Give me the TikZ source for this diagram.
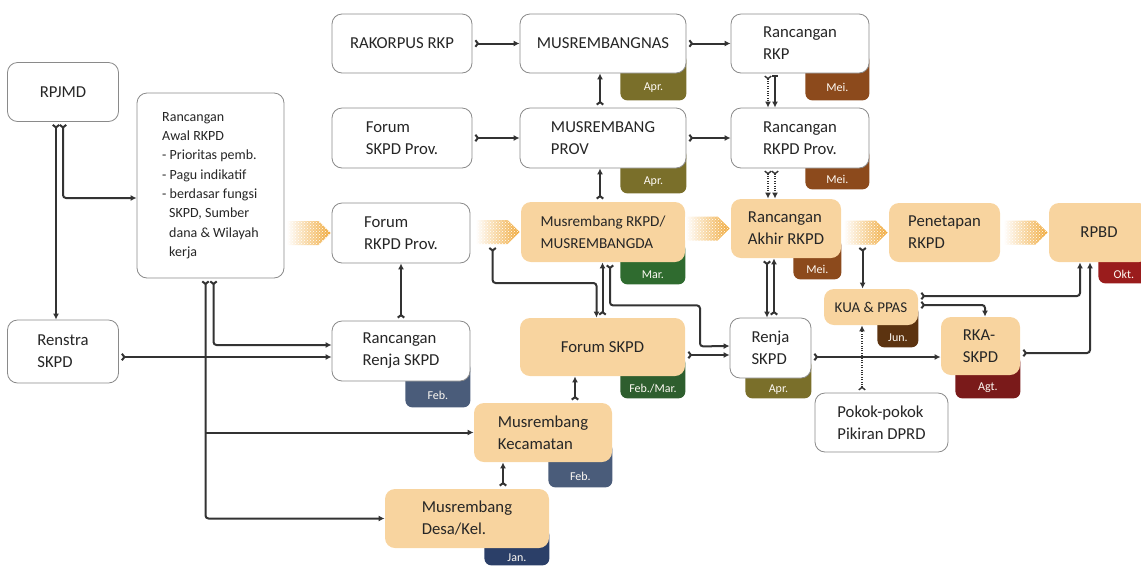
\documentclass[tikz,border=0pt]{standalone}
\usepackage{fontspec}
\setmainfont{Carlito}
\usepackage{tikz}
\usetikzlibrary{arrows.meta,calc,backgrounds,patterns}
\definecolor{peach}{HTML}{F8D49F}
\definecolor{boxgray}{HTML}{8A8A8A}
\definecolor{linegray}{HTML}{333333}
\definecolor{textgray}{HTML}{262626}
\definecolor{chevorange}{HTML}{F0A838}
\definecolor{olive}{HTML}{7A6F2A}
\definecolor{brownmei}{HTML}{8C4A1C}
\definecolor{brownjun}{HTML}{5C3310}
\definecolor{greenmar}{HTML}{2F6B2F}
\definecolor{greenfeb}{HTML}{2E5E2E}
\definecolor{redokt}{HTML}{9A1C1C}
\definecolor{redagt}{HTML}{7A1A1A}
\definecolor{slate}{HTML}{4A5C7A}
\definecolor{navy}{HTML}{2B3F68}
\newcommand{\boxfont}{\fontsize{16.7}{22}\selectfont}
\newcommand{\smallboxfont}{\fontsize{15.2}{22}\selectfont}
\newcommand{\awalfont}{\fontsize{14}{19.3}\selectfont}
\tikzstyle{box}=[draw=boxgray, line width=0.8pt, fill=white, rounded corners=10pt, align=left,
                 inner sep=0, text=textgray, font=\boxfont]
\tikzstyle{pbox}=[box, draw=none, fill=peach]
\tikzstyle{tablabel}=[inner sep=0, text=white!88!peach, font=\fontsize{12}{14}\selectfont]
\tikzstyle{flow}=[draw=linegray, line width=2pt, rounded corners=3pt, shorten <=2pt,
                  arrows={Straight Barb[reversed,length=2.5pt,width=6.5pt]-Latex[length=6pt,width=6pt]}]
\tikzstyle{branch}=[flow, shorten <=0pt, arrows={-Latex[length=6pt,width=6pt]}]
\tikzstyle{dflow}=[flow, line width=1.4pt, dash pattern=on 1pt off 1.4pt]
\tikzstyle{stagefill}=[left color=white, right color=chevorange]
% month tab under the lower right corner of a box: box, colour, text, width, drop
\newcommand{\monthtab}[5]{%
  \begin{scope}[on background layer]
    \fill[#2, rounded corners=7pt] ($(#1.south east)+(-#4,-20)$) rectangle ($(#1.south east)+(0,#5)$);
  \end{scope}
  \node[tablabel] (#1tab) at ($(#1.south east)+(-#4/2,#5/2+1)$) {#3};}
% hatched stage arrow in front of a box
\newcommand{\stagearrow}[1]{%
  \path[stagefill] ($(#1.west)+(-45,-12)$) -- ++(32,0) -- ++(12,12) -- ++(-12,12) -- ++(-32,0) -- cycle;
  \path[pattern=crosshatch dots, pattern color=white] ($(#1.west)+(-45,-12)$) -- ++(32,0) -- ++(12,12) -- ++(-12,12) -- ++(-32,0) -- cycle;}
\begin{document}
\begin{tikzpicture}[x=1pt, y=-1pt]
    \useasboundingbox (0,0) rectangle (1141,566);
    % left column
    \node[box, minimum width=111pt, minimum height=59pt] (rpjmd) at (63,92) {RPJMD};
    \node[box, minimum width=147pt, minimum height=185pt, font=\awalfont] (awal) at (210.5,185.5)
        {Rancangan\\Awal RKPD\\- Prioritas pemb.\\- Pagu indikatif\\- berdasar fungsi\\\hspace*{7pt}SKPD, Sumber\\\hspace*{7pt}dana \& Wilayah\\\hspace*{7pt}kerja};
    \node[box, minimum width=111pt, minimum height=63pt] (renstra) at (63,351.5) {Renstra\\SKPD};
    % national and province rows
    \node[box, minimum width=140pt, minimum height=59pt] (rakorpus) at (402,43.5) {RAKORPUS RKP};
    \node[box, minimum width=166pt, minimum height=59pt] (musnas) at (603,43.5) {MUSREMBANGNAS};
    \node[box, minimum width=138pt, minimum height=59pt] (rkp) at (800,43.5) {Rancangan\\RKP};
    \node[box, minimum width=140pt, minimum height=60pt] (forumprov) at (402,138) {Forum\\SKPD Prov.};
    \node[box, minimum width=166pt, minimum height=60pt] (musprov) at (603,138) {MUSREMBANG\\PROV};
    \node[box, minimum width=138pt, minimum height=60pt] (rkpdprov) at (800,138) {Rancangan\\RKPD Prov.};
    % main stage row
    \node[box, minimum width=138pt, minimum height=60pt] (forumrkpd) at (401,233) {Forum\\RKPD Prov.};
    \node[pbox, minimum width=164pt, minimum height=60pt, font=\smallboxfont] (musrkpd) at (603,232) {Musrembang RKPD/\\MUSREMBANGDA};
    \node[pbox, minimum width=110pt, minimum height=59pt] (akhir) at (786,228.5) {Rancangan\\Akhir RKPD};
    \node[pbox, minimum width=111pt, minimum height=59pt] (penetapan) at (944.5,232.5) {Penetapan\\RKPD};
    \node[pbox, minimum width=100pt, minimum height=59pt] (rpbd) at (1099,232.5) {RPBD};
    % lower rows
    \node[box, minimum width=138pt, minimum height=60pt] (rcgrenja) at (401,351) {Rancangan\\Renja SKPD};
    \node[pbox, minimum width=165pt, minimum height=58pt] (forumskpd) at (602.5,347) {Forum SKPD};
    \node[box, minimum width=81pt, minimum height=60pt] (renja) at (770.5,348) {Renja\\SKPD};
    \node[pbox, minimum width=94pt, minimum height=36pt, font=\fontsize{15}{18}\selectfont] (kua) at (871,307) {KUA \& PPAS};
    \node[pbox, minimum width=79pt, minimum height=58pt] (rka) at (980.5,346) {RKA-\\SKPD};
    \node[box, minimum width=133pt, minimum height=59pt] (pokok) at (881.5,422.5) {Pokok-pokok\\Pikiran DPRD};
    \node[pbox, minimum width=138pt, minimum height=59pt] (kecamatan) at (543,432.5) {Musrembang\\Kecamatan};
    \node[pbox, minimum width=164pt, minimum height=59pt] (desa) at (467,518.5) {Musrembang\\Desa/Kel.};
    % month tabs
    \monthtab{musnas}{olive}{Apr.}{66}{27}
    \monthtab{rkp}{brownmei}{Mei.}{64}{27}
    \monthtab{musprov}{olive}{Apr.}{66}{25}
    \monthtab{rkpdprov}{brownmei}{Mei.}{64}{21}
    \monthtab{musrkpd}{greenmar}{Mar.}{65}{22}
    \monthtab{akhir}{brownmei}{Mei.}{48}{21}
    \monthtab{rpbd}{redokt}{Okt.}{51}{21}
    \monthtab{rcgrenja}{slate}{Feb.}{65}{26}
    \monthtab{forumskpd}{greenfeb}{Feb./Mar.}{65}{22}
    \monthtab{renja}{olive}{Apr.}{66}{20}
    \monthtab{kua}{brownjun}{Jun.}{41}{22}
    \monthtab{rka}{redagt}{Agt.}{65}{23}
    \monthtab{kecamatan}{slate}{Feb.}{64}{25}
    \monthtab{desa}{navy}{Jan.}{65}{17}
    % stage arrows
    \stagearrow{forumrkpd}
    \stagearrow{musrkpd}
    \stagearrow{akhir}
    \stagearrow{penetapan}
    \stagearrow{rpbd}
    \coordinate (fork1) at ($(musrkpd.west)+(-28,13)$);
    \coordinate (fork2) at ($(penetapan.west)+(-26,12.5)$);
    % connectors
    \draw[flow] (rakorpus) -- (musnas);
    \draw[flow] (musnas) -- (rkp);
    \draw[flow] (forumprov) -- (musprov);
    \draw[flow] (musprov) -- (rkpdprov);
    \draw[flow] ([xshift=-3pt]musprov.north) -- ([xshift=-3pt]musprov.north |- musnas.south);
    \draw[flow] ([xshift=-3pt]musrkpd.north) -- ([xshift=-3pt]musrkpd.north |- musprov.south);
    \draw[dflow] ([xshift=-32pt]rkp.south) -- ([xshift=-32pt]rkp.south |- rkpdprov.north);
    \draw[flow, {Bar[width=6pt]}-{Latex[length=6pt,width=6pt]}] ([xshift=-25pt]rkp.south) -- ([xshift=-25pt]rkp.south |- rkpdprov.north);
    \draw[dflow] ([xshift=-32pt]rkpdprov.south) -- ([xshift=-32pt]rkpdprov.south |- akhir.north);
    \draw[dflow] ([xshift=-25pt]rkpdprov.south) -- ([xshift=-25pt]rkpdprov.south |- akhir.north);
    \draw[flow] ([xshift=-19pt]akhir.south) -- ([xshift=-19pt]akhir.south |- renja.north);
    \draw[flow] ([xshift=3.5pt]renja.north) -- ([xshift=3.5pt]renja.north |- akhir.south);
    \draw[flow] (forumskpd.north) -- (forumskpd.north |- musrkpd.south);
    \draw[flow] (fork1) -- ++(0,38) -| ([xshift=-6pt]forumskpd.north);
    \draw[flow] ([xshift=7pt]musrkpd.south) -- ++(0,43) -| ++(90,41) -- ([yshift=2pt]renja.west);
    \draw[flow] ([yshift=-8pt]forumskpd.east) -- ([yshift=-8pt]forumskpd.east -| renja.west);
    \draw[flow] ([yshift=-9pt]renja.east) -- ([yshift=-9pt]renja.east -| rka.west);
    \draw[flow] (fork2) -- (fork2 |- kua.north);
    \draw[flow] ([yshift=11pt]kua.east) -| ([xshift=-19pt]rpbd.south);
    \draw[flow] ([yshift=2pt]kua.east) -| ([xshift=4.5pt]rka.north);
    \draw[flow] ([yshift=-7pt]rka.east) -| ([xshift=-9pt]rpbd.south);
    \draw[dflow] ([xshift=-19.5pt]pokok.north) -- ([xshift=-19.5pt]pokok.north |- kua.south);
    \draw[flow] ([xshift=-7pt]rpjmd.south) -- ([xshift=-7pt]rpjmd.south |- renstra.north);
    \draw[flow] (rpjmd.south) |- ([yshift=-12.5pt]awal.west);
    \draw[flow] ([xshift=3pt]awal.south) |- ([yshift=6pt]rcgrenja.west);
    \draw[flow] ([yshift=-5.5pt]renstra.east) -- ([yshift=-5.5pt]renstra.east -| rcgrenja.west);
    \draw[flow] ([xshift=-5pt]awal.south) |- (desa.west);
    \draw[branch] ([xshift=-5pt]awal.south |- kecamatan.west) -- (kecamatan.west);
    \draw[flow] (rcgrenja) -- (forumrkpd);
    \draw[flow] ([xshift=32pt]kecamatan.north) -- ([xshift=32pt]kecamatan.north |- forumskpd.south);
    \draw[flow] ([xshift=36pt]desa.north) -- ([xshift=36pt]desa.north |- kecamatan.south);
\end{tikzpicture}
\end{document}
